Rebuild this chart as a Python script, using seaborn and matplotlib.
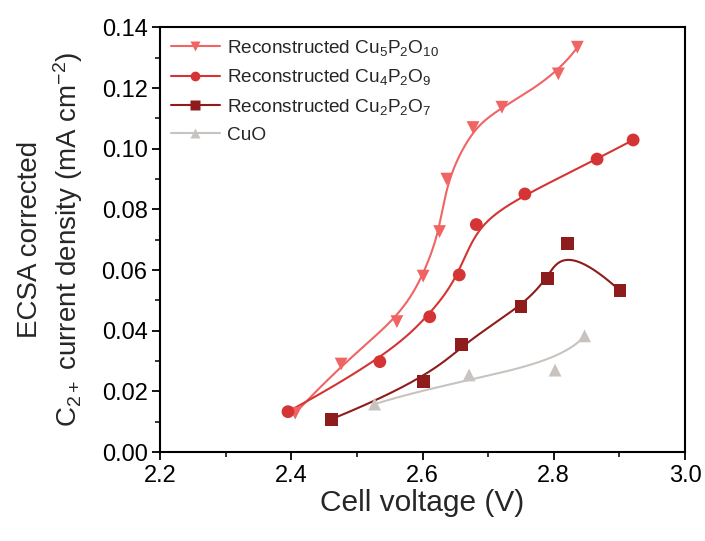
import numpy as np
import matplotlib
matplotlib.use('Agg')
import matplotlib.pyplot as plt
from matplotlib.lines import Line2D
from matplotlib.ticker import MultipleLocator
import seaborn as sns

# data
v_cu5 = [2.406, 2.476, 2.561, 2.601, 2.626, 2.637, 2.677, 2.721, 2.807, 2.836]
j_cu5 = [0.0128, 0.0290, 0.0430, 0.0580, 0.0727, 0.0900, 0.1070, 0.1137, 0.1247, 0.1335]

v_cu4 = [2.395, 2.535, 2.611, 2.656, 2.682, 2.756, 2.866, 2.921]
j_cu4 = [0.0133, 0.0298, 0.0446, 0.0584, 0.0750, 0.0851, 0.0966, 0.1029]

v_cu2 = [2.461, 2.601, 2.659, 2.750, 2.791, 2.821, 2.901]
j_cu2 = [0.0108, 0.0232, 0.0355, 0.0479, 0.0571, 0.0688, 0.0532]

v_cuo = [2.527, 2.671, 2.802, 2.847]
j_cuo = [0.0158, 0.0254, 0.0270, 0.0383]

labels = ['Reconstructed Cu$_5$P$_2$O$_{10}$',
          'Reconstructed Cu$_4$P$_2$O$_9$',
          'Reconstructed Cu$_2$P$_2$O$_7$',
          'CuO']
colors = ['#F06464', '#D43434', '#8E1C1C', '#C9C3BF']
markers = ['v', 'o', 's', '^']


def bspline(xs, ys, n=300):
    # clamped uniform cubic B-spline with the data as control points (like Origin "B-Spline")
    pts = np.column_stack([xs, ys])
    k = 3
    m = len(pts)
    inner = np.arange(1, m - k)
    knots = np.concatenate([np.zeros(k + 1), inner, np.full(k + 1, m - k)]).astype(float)
    t = np.linspace(0, m - k, n)
    t[-1] -= 1e-9
    B = np.zeros((n, len(knots) - 1))
    for i in range(len(knots) - 1):
        B[:, i] = (t >= knots[i]) & (t < knots[i + 1])
    for d in range(1, k + 1):
        Bn = np.zeros((n, len(knots) - 1 - d))
        for i in range(len(knots) - 1 - d):
            a = knots[i + d] - knots[i]
            b = knots[i + d + 1] - knots[i + 1]
            term = np.zeros(n)
            if a > 0:
                term += (t - knots[i]) / a * B[:, i]
            if b > 0:
                term += (knots[i + d + 1] - t) / b * B[:, i + 1]
            Bn[:, i] = term
        B = Bn
    curve = B @ pts
    return curve[:, 0], curve[:, 1]


sns.set_style('ticks')
plt.rcParams['font.family'] = ['Liberation Sans', 'DejaVu Sans']
plt.rcParams['mathtext.fontset'] = 'custom'
plt.rcParams['mathtext.rm'] = 'Liberation Sans'
plt.rcParams['mathtext.it'] = 'Liberation Sans'
plt.rcParams['mathtext.default'] = 'regular'

fig = plt.figure(figsize=(7.05, 5.41), dpi=100, facecolor='white')
ax = fig.add_axes([0.227, 0.1645, 0.7446, 0.7847])

series = [(v_cu5, j_cu5), (v_cu4, j_cu4), (v_cu2, j_cu2), (v_cuo, j_cuo)]
for (vx, jy), c, mk in zip(series, colors, markers):
    sx, sy = bspline(vx, jy)
    sns.lineplot(x=sx, y=sy, ax=ax, color=c, lw=1.5, sort=False, estimator=None)
    sns.scatterplot(x=vx, y=jy, ax=ax, color=c, marker=mk, s=85, edgecolor='none', zorder=3)

ax.set_xlim(2.2, 3.0)
ax.set_ylim(0, 0.14)
ax.xaxis.set_major_locator(MultipleLocator(0.2))
ax.xaxis.set_minor_locator(MultipleLocator(0.1))
ax.yaxis.set_major_locator(MultipleLocator(0.02))
ax.yaxis.set_minor_locator(MultipleLocator(0.01))
ax.xaxis.set_major_formatter(plt.FuncFormatter(lambda x, p: f'{x:.1f}'))
ax.yaxis.set_major_formatter(plt.FuncFormatter(lambda x, p: f'{x:.2f}'))
ax.tick_params(which='major', direction='out', length=6, width=1.3, labelsize=17, colors='black', pad=3)
ax.tick_params(which='minor', direction='out', length=3.5, width=1.3)
ax.tick_params(top=False, right=False, which='both')
for s in ax.spines.values():
    s.set_visible(True)
    s.set_linewidth(1.5)
    s.set_color('black')

ax.set_xlabel('Cell voltage (V)', fontsize=21.5, labelpad=2)
ax.set_ylabel('ECSA corrected\nC$_{2+}$ current density (mA cm$^{-2}$)', fontsize=20, labelpad=12,
              linespacing=1.3)

handles = [Line2D([0], [0], color=c, lw=1.5, marker=mk, markersize=7, markeredgecolor='none')
           for c, mk in zip(colors, markers)]
ax.legend(handles, labels, loc='upper left', frameon=False, fontsize=13.7, handlelength=2.6,
          handletextpad=0.35, labelspacing=0.5, borderaxespad=0.15, bbox_to_anchor=(0.0, 1.0))

plt.savefig('out.png', dpi=100, facecolor='white')
plt.close()
